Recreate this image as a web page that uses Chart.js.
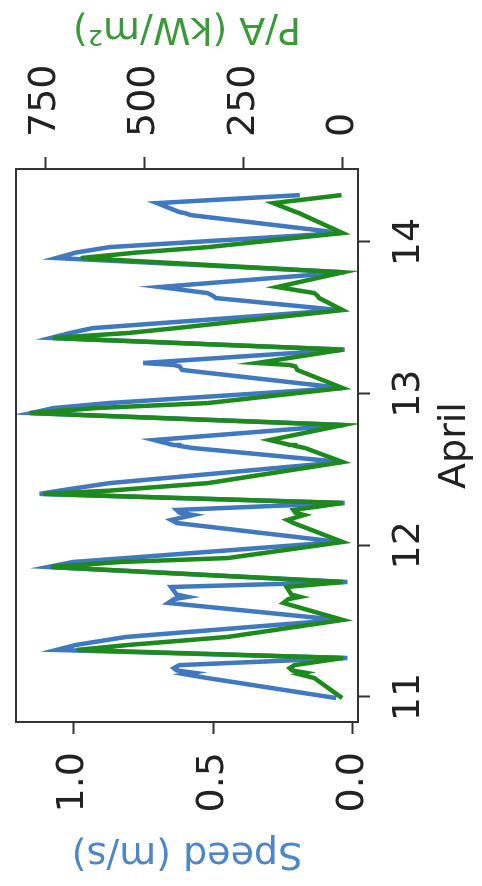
<!DOCTYPE html>
<html>
<head>
<meta charset="utf-8">
<script src="https://cdn.jsdelivr.net/npm/chart.js@4.4.0/dist/chart.umd.min.js"></script>
<style>
html, body { margin:0; padding:0; background:#fff; }
body { width:482px; height:886px; overflow:hidden; position:relative; }
/* chart is drawn landscape then turned a quarter left */
#wrap { position:absolute; left:0; top:0; width:886px; height:482px;
  transform-origin:0 0; transform:translate(0px, 886px) rotate(-90deg); }
</style>
</head>
<body>
<div id="wrap"><canvas id="chart_1" width="886" height="482"></canvas></div>
<script>
// time in days of April
const dayTimes = [
  10.993, 11.125, 11.15, 11.16, 11.175, 11.19, 11.21, 11.257,
  11.31, 11.343, 11.396, 11.508,
  11.62, 11.645, 11.66, 11.675, 11.725, 11.758,
  11.857, 11.89, 11.916, 12.022,
  12.147, 12.167, 12.2, 12.215, 12.233, 12.279,
  12.339, 12.36, 12.41, 12.549,
  12.641, 12.655, 12.661, 12.694, 12.793,
  12.872, 12.905, 12.938, 13.037,
  13.156, 13.18, 13.189, 13.202, 13.29,
  13.367, 13.40, 13.432, 13.551,
  13.63, 13.645, 13.663, 13.703, 13.80,
  13.894, 13.93, 13.966, 14.059,
  14.177, 14.19, 14.197, 14.256, 14.309
];

// current speed (m/s)
const speedVals = [
  0.06, 0.52, 0.60, 0.57, 0.63, 0.64, 0.62, 0.02,
  1.06, 0.99, 0.81, 0.05,
  0.66, 0.64, 0.59, 0.63, 0.65, 0.02,
  1.09, 1.00, 0.81, 0.05,
  0.63, 0.65, 0.57, 0.62, 0.63, 0.03,
  1.12, 1.05, 0.87, 0.04,
  0.57, 0.62, 0.64, 0.71, 0.03,
  1.15, 1.07, 0.87, 0.04,
  0.61, 0.62, 0.64, 0.75, 0.03,
  1.08, 1.01, 0.93, 0.05,
  0.49, 0.50, 0.52, 0.69, 0.03,
  1.06, 0.99, 0.87, 0.04,
  0.58, 0.60, 0.62, 0.70, 0.19
];

// power density P/A
const powerVals = [
  2, 72, 110, 95, 128, 134, 122, 0,
  670, 540, 290, 1,
  150, 138, 108, 130, 142, 0,
  735, 560, 290, 1,
  125, 140, 98, 120, 125, 0,
  755, 590, 340, 1,
  95, 120, 132, 184, 0,
  788, 620, 340, 1,
  115, 120, 135, 216, 0,
  730, 540, 420, 1,
  60, 64, 72, 166, 0,
  660, 520, 340, 1,
  100, 110, 118, 175, 4
];

const dayTicks = [11, 12, 13, 14];
const speedTicks = [0, 0.5, 1.0];
const powerTicks = [0, 250, 500, 750];

const blue = '#4079bf';
const green = '#1e8a1e';
const FONT = 'DejaVu Sans';

function toPoints(xs, ys){
    let pts = [];
    xs.forEach((x, i) => pts.push({x: x, y: ys[i]}));
    return pts;
}

function fixTicks(list){
    return function(scale){
        scale.ticks = list.map(v => ({value: v}));
    };
}

function axisGrid(){
    return { drawOnChartArea: false, drawTicks: true, tickLength: 12, tickWidth: 2, tickColor: '#333' };
}

// fixed axis size, and no extra room for half labels
function fitV(w){
    return function(s){
        s.width = w;
        s.paddingTop = 0;
        s.paddingBottom = 0;
    };
}

function fitH(h){
    return function(s){
        s.height = h;
        s.paddingLeft = 0;
        s.paddingRight = 0;
    };
}

// frame round the plot + right label (reads upwards like matplotlib)
const framePlugin = {
    id: 'frame',
    afterDraw(chart){
        const a = chart.chartArea;
        const ctx = chart.ctx;
        ctx.save();
        ctx.strokeStyle = '#333';
        ctx.lineWidth = 2;
        ctx.strokeRect(a.left, a.top, a.right - a.left, a.bottom - a.top);

        ctx.translate(chart.width - 28, (a.top + a.bottom) / 2);
        ctx.rotate(-Math.PI / 2);
        ctx.textAlign = 'center';
        ctx.textBaseline = 'middle';
        ctx.fillStyle = '#3a9a3a';
        ctx.font = '38px "' + FONT + '"';
        ctx.fillText('P/A (kW/m\u00b2)', 0, 0);
        ctx.restore();
    }
};

let chart = new Chart('chart_1', {
    type: 'line',
    data: {
        datasets: [
            {
                label: 'P/A',
                data: toPoints(dayTimes, powerVals),
                yAxisID: 'yPower',
                borderColor: green,
                borderWidth: 4.5,
                pointRadius: 0,
                tension: 0,
                fill: false,
                order: 0
            },
            {
                label: 'Speed',
                data: toPoints(dayTimes, speedVals),
                yAxisID: 'ySpeed',
                borderColor: blue,
                borderWidth: 4.5,
                pointRadius: 0,
                tension: 0,
                fill: false,
                order: 1
            }
        ]
    },
    options: {
        responsive: false,
        animation: false,
        devicePixelRatio: 1,
        layout: { padding: { top: 16, left: 0, right: 0, bottom: 0 } },
        plugins: {
            legend: { display: false },
            tooltip: { enabled: false }
        },
        scales: {
            x: {
                type: 'linear',
                position: 'bottom',
                min: 10.835,
                max: 14.481,
                afterBuildTicks: fixTicks(dayTicks),
                afterFit: fitH(124),
                grid: axisGrid(),
                border: { display: false },
                ticks: {
                    color: '#222',
                    padding: 16,
                    maxRotation: 0,
                    font: { family: FONT, size: 38 },
                    callback: v => String(v)
                },
                title: {
                    display: true,
                    text: 'April',
                    color: '#222',
                    padding: { top: 0, bottom: 4 },
                    font: { family: FONT, size: 38 }
                }
            },
            ySpeed: {
                type: 'linear',
                position: 'left',
                min: -0.018,
                max: 1.204,
                afterBuildTicks: fixTicks(speedTicks),
                afterFit: fitV(164),
                grid: axisGrid(),
                border: { display: false },
                ticks: {
                    color: '#222',
                    padding: 18,
                    font: { family: FONT, size: 38 },
                    callback: v => Number(v).toFixed(1)
                },
                title: {
                    display: true,
                    text: 'Speed (m/s)',
                    color: '#4f86c6',
                    padding: { top: 10, bottom: 0 },
                    font: { family: FONT, size: 38 }
                }
            },
            yPower: {
                type: 'linear',
                position: 'right',
                min: -37.8,
                max: 823,
                afterBuildTicks: fixTicks(powerTicks),
                afterFit: fitV(169),
                grid: axisGrid(),
                border: { display: false },
                ticks: {
                    color: '#222',
                    padding: 20,
                    font: { family: FONT, size: 38 },
                    callback: v => String(v)
                }
            }
        }
    },
    plugins: [framePlugin]
});
</script>
</body>
</html>
